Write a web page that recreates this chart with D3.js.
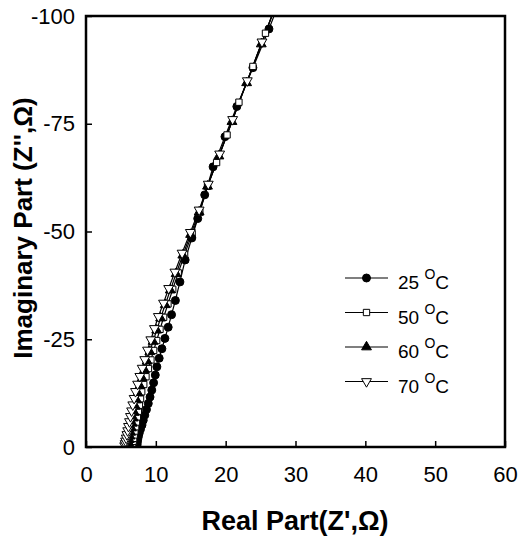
<!DOCTYPE html>
<html>
<head>
<meta charset="utf-8">
<script src="https://cdn.jsdelivr.net/npm/d3@7"></script>
<style>
  body { margin: 0; background: #fff; }
  svg { font-family: "Liberation Sans", Arial, sans-serif; }
</style>
</head>
<body>
<div class="chart"></div>
<script>
const width = 519;
const height = 539;
const margin = { top: 16, right: 14, bottom: 92, left: 86 };

// Nyquist data, Z' vs Z'' (ohm)
const x25 = [7.3, 7.32, 7.35, 7.4, 7.5, 7.62, 7.8, 8.02, 8.2, 8.42, 8.66, 8.92, 9.17, 9.42, 9.68, 9.92, 10.15, 10.48, 10.87, 11.3, 11.77, 12.25, 12.8, 13.45, 14.2, 15.15, 16.0, 17.0, 18.2, 19.9, 21.6, 23.9, 26.2, 27.4];
const y25 = [-0.2, -0.6, -1.1, -1.7, -2.4, -3.2, -4.1, -5.1, -6.2, -7.4, -8.7, -10.1, -11.6, -13.2, -14.9, -16.7, -18.6, -20.6, -22.8, -25.2, -27.8, -30.7, -34.0, -38.3, -43.4, -48.5, -53.0, -58.5, -65.0, -72.0, -79.0, -88.0, -97.0, -102];

const x50 = [6.62, 6.68, 6.74, 6.82, 6.9, 7.0, 7.11, 7.23, 7.36, 7.5, 7.65, 7.81, 7.98, 8.27, 8.59, 8.94, 9.3, 9.69, 10.12, 10.6, 11.12, 11.74, 12.42, 13.21, 14.12, 15.2, 16.3, 17.4, 18.7, 20.2, 21.9, 23.9, 25.7, 27.07];
const y50 = [-0.2, -0.7, -1.3, -2.0, -2.8, -3.7, -4.7, -5.8, -7.0, -8.3, -9.7, -11.2, -12.8, -14.5, -16.3, -18.2, -20.2, -22.4, -24.7, -27.3, -30.1, -33.2, -36.6, -40.4, -44.7, -49.5, -54.5, -60.5, -66.0, -72.4, -80.0, -88.3, -96.0, -102];

const x60 = [6.05, 6.12, 6.2, 6.29, 6.39, 6.51, 6.63, 6.77, 6.92, 7.08, 7.25, 7.44, 7.72, 8.04, 8.38, 8.74, 9.14, 9.6, 10.12, 10.68, 11.34, 12.07, 12.9, 13.86, 14.98, 16.2, 17.4, 19.03, 20.9, 23.0, 25.1, 27.07];
const y60 = [-0.4, -1.0, -1.7, -2.5, -3.4, -4.4, -5.5, -6.7, -8.0, -9.4, -10.9, -12.5, -14.2, -16.0, -17.9, -19.9, -22.1, -24.5, -27.1, -29.9, -33.0, -36.4, -40.2, -44.5, -49.3, -54.5, -60.5, -67.5, -75.5, -84.5, -93.5, -102];

const x70 = [5.54, 5.6, 5.67, 5.76, 5.86, 5.97, 6.09, 6.23, 6.37, 6.53, 6.7, 6.89, 7.09, 7.39, 7.71, 8.05, 8.41, 8.81, 9.28, 9.8, 10.36, 11.1, 11.84, 12.73, 13.76, 14.94, 16.2, 17.51, 19.14, 21.0, 23.1, 25.2, 27.07];
const y70 = [-0.3, -0.8, -1.4, -2.1, -2.9, -3.8, -4.8, -5.9, -7.1, -8.4, -9.8, -11.3, -12.9, -14.6, -16.4, -18.3, -20.3, -22.5, -24.9, -27.5, -30.3, -33.4, -36.8, -40.6, -45.0, -49.8, -55.0, -61.0, -68.0, -76.0, -85.0, -94.0, -102];

const seriesNames = ["25", "50", "60", "70"];
const xTicks = [0, 10, 20, 30, 40, 50, 60];
const yTicks = [0, -25, -50, -75, -100];

const series = [
    { name: seriesNames[0], xs: x25, ys: y25, shape: "circle", filled: true },
    { name: seriesNames[1], xs: x50, ys: y50, shape: "square", filled: false },
    { name: seriesNames[2], xs: x60, ys: y60, shape: "up", filled: true },
    { name: seriesNames[3], xs: x70, ys: y70, shape: "down", filled: false }
];

const svg = d3.select(".chart").append("svg")
    .attr("width", width)
    .attr("height", height);

const xScale = d3.scaleLinear()
    .domain([0, 60])
    .range([margin.left, width - margin.right]);

const yScale = d3.scaleLinear()
    .domain([0, -100])
    .range([height - margin.bottom, margin.top]);

// clip so lines stop at the frame
svg.append("clipPath").attr("id", "plot-clip")
    .append("rect")
    .attr("x", margin.left)
    .attr("y", margin.top)
    .attr("width", width - margin.left - margin.right)
    .attr("height", height - margin.top - margin.bottom);

// marker paths
const symbols = {
    circle: d3.symbol().type(d3.symbolCircle).size(50),
    square: d3.symbol().type(d3.symbolSquare).size(40),
    up: d3.symbol().type(d3.symbolTriangle).size(42),
    down: d3.symbol().type(d3.symbolTriangle).size(42)
};

function drawMarker(g, s) {
    const m = g.append("path")
        .attr("d", symbols[s.shape]())
        .attr("fill", s.filled ? "#000" : "#fff")
        .attr("stroke", "#000")
        .attr("stroke-width", 1);
    if (s.shape === "down") m.attr("transform", "rotate(180)");
    return m;
}

const line = d3.line()
    .x(d => xScale(d[0]))
    .y(d => yScale(d[1]));

const plot = svg.append("g").attr("clip-path", "url(#plot-clip)");

series.forEach(s => {
    const pts = s.xs.map((x, i) => [x, s.ys[i]]);
    plot.append("path")
        .datum(pts)
        .attr("d", line)
        .attr("fill", "none")
        .attr("stroke", "#000")
        .attr("stroke-width", 1.2);
});

// markers on top of all lines
series.forEach(s => {
    s.xs.forEach((x, i) => {
        const g = plot.append("g")
            .attr("transform", `translate(${xScale(x)},${yScale(s.ys[i])})`);
        drawMarker(g, s);
    });
});

// Axes with inward ticks, plain hyphen for negatives
const xAxis = d3.axisBottom(xScale).tickValues(xTicks).tickFormat(d => String(d))
    .tickSizeInner(-6).tickSizeOuter(0).tickPadding(19);
const yAxis = d3.axisLeft(yScale).tickValues(yTicks).tickFormat(d => String(d))
    .tickSizeInner(-6).tickSizeOuter(0).tickPadding(11);

svg.append("g")
    .attr("transform", `translate(0, ${height - margin.bottom})`)
    .call(xAxis)
    .call(g => g.select(".domain").remove())
    .call(g => g.selectAll(".tick line").attr("stroke-width", 1.5))
    .call(g => g.selectAll("text").attr("font-size", 22).attr("fill", "#000"));

svg.append("g")
    .attr("transform", `translate(${margin.left}, 0)`)
    .call(yAxis)
    .call(g => g.select(".domain").remove())
    .call(g => g.selectAll(".tick line").attr("stroke-width", 1.5))
    .call(g => g.selectAll("text").attr("font-size", 22).attr("fill", "#000"));

// frame
svg.append("rect")
    .attr("x", margin.left)
    .attr("y", margin.top)
    .attr("width", width - margin.left - margin.right)
    .attr("height", height - margin.top - margin.bottom)
    .attr("fill", "none")
    .attr("stroke", "#000")
    .attr("stroke-width", 2.5);

// Axis titles
svg.append("text")
    .attr("x", 295)
    .attr("y", 530)
    .attr("text-anchor", "middle")
    .attr("font-size", 27)
    .attr("font-weight", "bold")
    .text("Real Part(Z',Ω)");

svg.append("text")
    .attr("transform", "translate(32, 228) rotate(-90)")
    .attr("text-anchor", "middle")
    .attr("font-size", 26)
    .attr("font-weight", "bold")
    .text("Imaginary Part (Z'',Ω)");

// Legend
const legend = svg.append("g").attr("transform", "translate(345, 278)");
series.forEach((s, i) => {
    const row = legend.append("g").attr("transform", `translate(0, ${i * 34.5})`);
    row.append("line")
        .attr("x1", 0).attr("x2", 43)
        .attr("stroke", "#000").attr("stroke-width", 1.2);
    const g = row.append("g").attr("transform", "translate(21.5, 0)");
    drawMarker(g, s);
    const t = row.append("text")
        .attr("x", 53)
        .attr("y", 11)
        .attr("font-size", 19);
    t.append("tspan").text(s.name + " ");
    t.append("tspan").attr("font-size", 14).attr("dy", -10).text("O");
    t.append("tspan").attr("dy", 10).text("C");
});
</script>
</body>
</html>
